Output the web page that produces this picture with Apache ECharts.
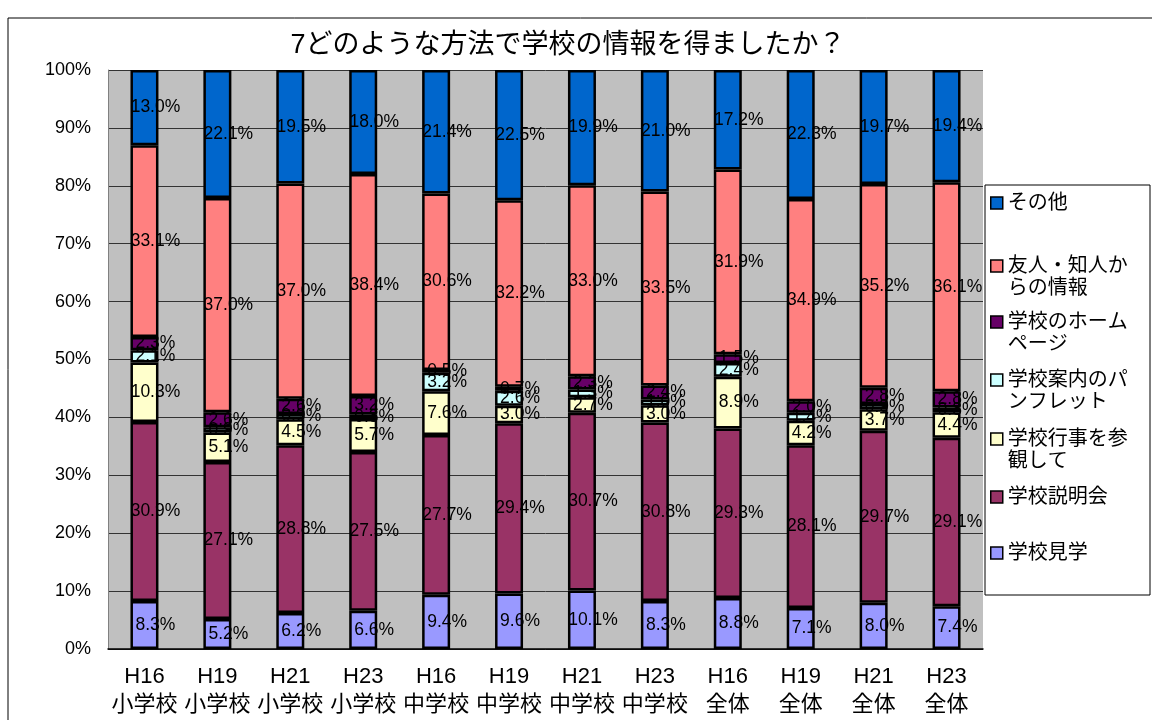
<!DOCTYPE html>
<html><head><meta charset="utf-8">
<script src="https://cdn.jsdelivr.net/npm/echarts@6/dist/echarts.min.js"></script>
<style>html,body{margin:0;padding:0;background:#fff}#c{width:1152px;height:720px}</style>
</head><body><div id="c"></div>
<script>
// ---- data ----
const categories = ['H16\n小学校','H19\n小学校','H21\n小学校','H23\n小学校','H16\n中学校','H19\n中学校','H21\n中学校','H23\n中学校','H16\n全体','H19\n全体','H21\n全体','H23\n全体'];
const seriesNames = ['学校見学','学校説明会','学校行事を参観して','学校案内のパンフレット','学校のホームページ','友人・知人からの情報','その他'];
const kengaku     = [8.3, 5.2, 6.2, 6.6, 9.4, 9.6, 10.1, 8.3, 8.8, 7.1, 8.0, 7.4];
const setsumeikai = [30.9, 27.1, 28.8, 27.5, 27.7, 29.4, 30.7, 30.8, 29.3, 28.1, 29.7, 29.1];
const gyoji       = [10.3, 5.1, 4.5, 5.7, 7.6, 3.0, 2.7, 3.0, 8.9, 4.2, 3.7, 4.4];
const pamphlet    = [2.1, 0.9, 0.9, 0.8, 3.2, 2.6, 1.3, 1.0, 2.4, 1.4, 0.9, 0.8];
const homepage    = [2.3, 2.6, 2.6, 3.2, 0.5, 0.7, 2.3, 2.4, 1.5, 2.0, 2.8, 2.8];
const yujin       = [33.1, 37.0, 37.0, 38.4, 30.6, 32.2, 33.0, 33.5, 31.9, 34.9, 35.2, 36.1];
const sonota      = [13.0, 22.1, 19.5, 18.0, 21.4, 22.5, 19.9, 21.0, 17.2, 22.3, 19.7, 19.4];
const yTickValues = [0, 10, 20, 30, 40, 50, 60, 70, 80, 90, 100];

// ---- build ----
const raw = [kengaku, setsumeikai, gyoji, pamphlet, homepage, yujin, sonota];
const totals = categories.map((_, j) => raw.reduce((s, a) => s + a[j], 0));
const colors = ['#9999FF','#993366','#FFFFCC','#CCFFFF','#660066','#FF8080','#0066CC'];
const FONT = "'Liberation Sans', 'Noto Sans CJK JP', sans-serif";

const series = raw.map((arr, i) => ({
  name: seriesNames[i], type: 'bar', stack: 'total', barWidth: 28,
  data: arr.map((v, j) => v / totals[j] * 100),
  itemStyle: { color: colors[i], borderColor: '#000', borderWidth: 2.5 },
  label: { show: true, position: 'inside', offset: [11, 0], color: '#000', fontSize: 17.5, fontFamily: FONT,
    formatter: p => arr[p.dataIndex].toFixed(1) + '%' },
  emphasis: { disabled: true }
}));

const legendText = {
  '友人・知人からの情報': '\u3000\n友人・知人か\nらの情報',
  '学校のホームページ': '\u3000\n学校のホーム\nページ',
  '学校案内のパンフレット': '\u3000\n学校案内のパ\nンフレット',
  '学校行事を参観して': '\u3000\n学校行事を参\n観して'
};
const legendCenters = { 'その他': 203, '友人・知人からの情報': 266, '学校のホームページ': 322, '学校案内のパンフレット': 380, '学校行事を参観して': 439, '学校説明会': 497, '学校見学': 553 };
const LH = 22;
const legends = Object.keys(legendCenters).map(name => {
  const multi = !!legendText[name];
  return {
    data: [name], orient: 'vertical', left: 990, top: legendCenters[name] - (multi ? LH * 1.5 : LH / 2),
    padding: 0, itemWidth: 12, itemHeight: 12, itemGap: 0, selectedMode: false,
    icon: 'rect', itemStyle: { borderColor: '#000', borderWidth: 1.5 },
    formatter: n => legendText[n] || n,
    textStyle: { fontSize: 20, lineHeight: LH, color: '#000', fontFamily: FONT }
  };
});

const chart = echarts.init(document.getElementById('c'));
chart.setOption({
  animation: false,
  backgroundColor: '#fff',
  title: { text: '7どのような方法で学校の情報を得ましたか？', left: 563, textAlign: 'center', top: 27,
    textStyle: { fontSize: 27, fontWeight: 'normal', color: '#000', fontFamily: FONT } },
  graphic: [
    { type: 'rect', shape: { x: 8, y: 18, width: 1300, height: 900 }, style: { fill: 'none', stroke: '#000', lineWidth: 1 }, z: 0 },
    { type: 'rect', shape: { x: 985, y: 185, width: 165, height: 410 }, style: { fill: '#fff', stroke: '#000', lineWidth: 1 }, z: 0 }
  ],
  legend: legends,
  grid: { left: 108, right: 169, top: 70, bottom: 71, show: true, backgroundColor: '#C0C0C0', borderWidth: 0 },
  xAxis: { type: 'category', data: categories,
    axisLine: { lineStyle: { color: '#000', width: 1.5 } },
    axisTick: { inside: true, length: 6, lineStyle: { color: '#000' } },
    axisLabel: { interval: 0, color: '#000', fontSize: 22, lineHeight: 28, margin: 14, fontFamily: FONT } },
  yAxis: { type: 'value', min: yTickValues[0], max: yTickValues[yTickValues.length - 1], interval: yTickValues[1] - yTickValues[0],
    axisLine: { show: true, lineStyle: { color: '#808080' } },
    axisTick: { show: false },
    axisLabel: { formatter: '{value}%', color: '#000', fontSize: 18, margin: 17, fontFamily: FONT },
    splitLine: { lineStyle: { color: '#333', width: 1 } } },
  series: series
});
</script></body></html>
